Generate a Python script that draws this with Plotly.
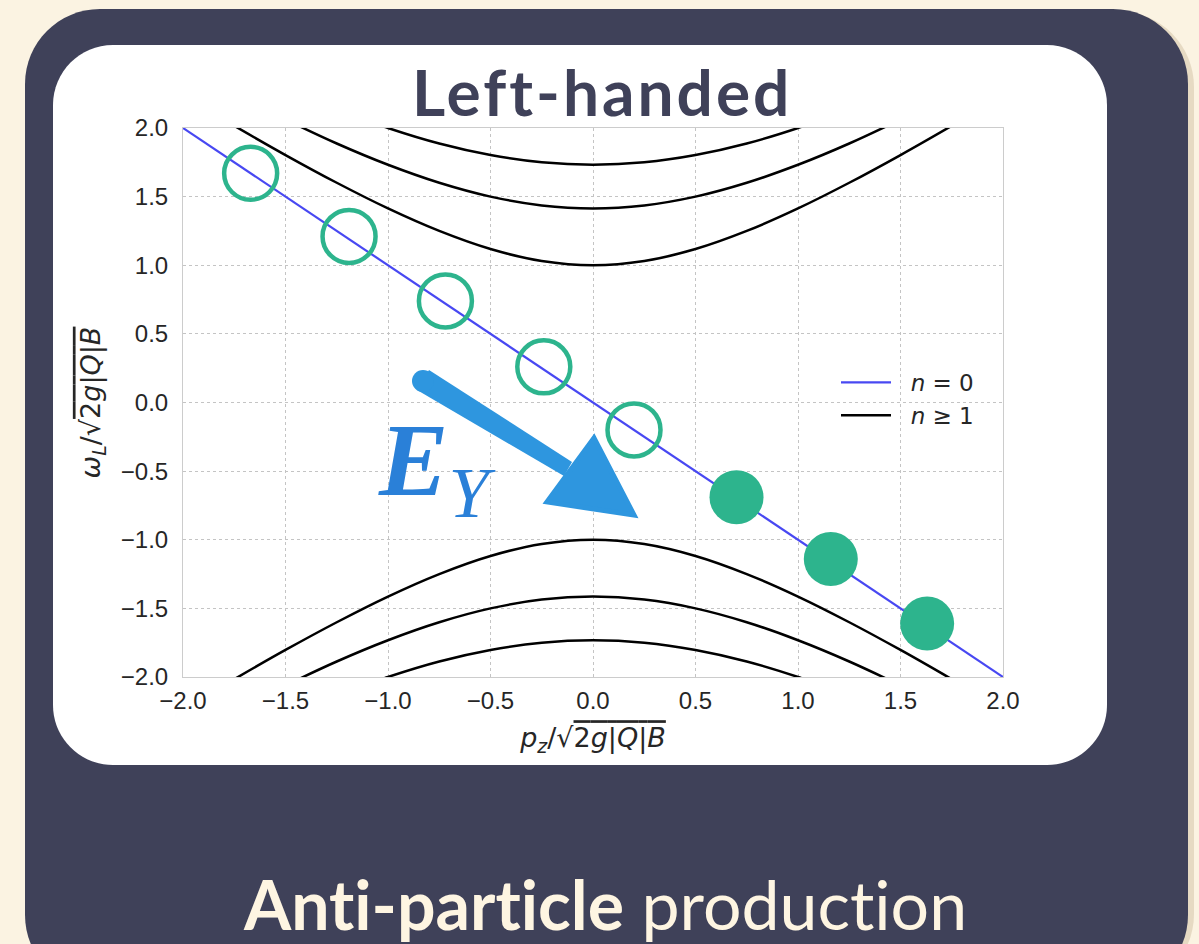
import plotly.graph_objects as go

# ---------------- data ----------------
p_grid = [-2.0, -1.75, -1.5, -1.25, -1.0, -0.75, -0.5, -0.25, 0.0,
          0.25, 0.5, 0.75, 1.0, 1.25, 1.5, 1.75, 2.0]
omega_n1 = [2.236, 2.016, 1.803, 1.601, 1.414, 1.250, 1.118, 1.031, 1.000,
            1.031, 1.118, 1.250, 1.414, 1.601, 1.803, 2.016, 2.236]
omega_n2 = [2.449, 2.250, 2.062, 1.887, 1.732, 1.601, 1.500, 1.436, 1.414,
            1.436, 1.500, 1.601, 1.732, 1.887, 2.062, 2.250, 2.449]
omega_n3 = [2.646, 2.462, 2.291, 2.136, 2.000, 1.887, 1.803, 1.750, 1.732,
            1.750, 1.803, 1.887, 2.000, 2.136, 2.291, 2.462, 2.646]
n0_p = [-2.0, 2.0]
n0_omega = [2.0, -2.0]

open_p = [-1.67, -1.19, -0.72, -0.24, 0.20]
open_omega = [1.67, 1.21, 0.74, 0.26, -0.20]
filled_p = [0.70, 1.16, 1.63]
filled_omega = [-0.69, -1.14, -1.61]

tick_vals = [-2.0, -1.5, -1.0, -0.5, 0.0, 0.5, 1.0, 1.5, 2.0]
tick_text = ["\u22122.0", "\u22121.5", "\u22121.0", "\u22120.5", "0.0", "0.5", "1.0", "1.5", "2.0"]

# ---------------- styles ----------------
W, H = 1199, 944
PL, PR, PT, PB = 183, 1003, 128, 677  # plot area pixels
CREAM = "#FBF3E2"
SLATE = "#3F4159"
GREEN = "#2DB48D"
BLUE_LINE = "#4848F2"
ARROW = "#2E96DF"


def px2paper(x, y):
    return (x - PL) / (PR - PL), (PB - y) / (PB - PT)


def px2data(x, y):
    return -2 + 4 * (x - PL) / (PR - PL), 2 - 4 * (y - PT) / (PB - PT)


def rounded_rect(x0, y0, x1, y1, r):
    k = 0.5523 * r
    def P(x, y):
        a, b = px2paper(x, y)
        return f"{a:.5f},{b:.5f}"
    d = (f"M {P(x0 + r, y0)} L {P(x1 - r, y0)} "
         f"C {P(x1 - r + k, y0)} {P(x1, y0 + r - k)} {P(x1, y0 + r)} "
         f"L {P(x1, y1 - r)} "
         f"C {P(x1, y1 - r + k)} {P(x1 - r + k, y1)} {P(x1 - r, y1)} "
         f"L {P(x0 + r, y1)} "
         f"C {P(x0 + r - k, y1)} {P(x0, y1 - r + k)} {P(x0, y1 - r)} "
         f"L {P(x0, y0 + r)} "
         f"C {P(x0, y0 + r - k)} {P(x0 + r - k, y0)} {P(x0 + r, y0)} Z")
    return d


def poly_data(points):
    s = []
    for i, (x, y) in enumerate(points):
        a, b = px2data(x, y)
        s.append(("M " if i == 0 else "L ") + f"{a:.5f},{b:.5f}")
    return " ".join(s) + " Z"


fig = go.Figure()

for i, ys in enumerate([omega_n1, omega_n2, omega_n3]):
    fig.add_trace(go.Scatter(x=p_grid, y=ys, mode="lines", line=dict(color="black", width=2.5, shape="spline"),
                             showlegend=(i == 0), name="\u00a0\u00a0<i>n</i> \u2265 1", legendgroup="n1"))
    fig.add_trace(go.Scatter(x=p_grid, y=[-v for v in ys], mode="lines",
                             line=dict(color="black", width=2.5, shape="spline"),
                             showlegend=False, legendgroup="n1"))

fig.add_trace(go.Scatter(x=n0_p, y=n0_omega, mode="lines", line=dict(color=BLUE_LINE, width=2.2),
                         name="\u00a0\u00a0<i>n</i> = 0", showlegend=True))

fig.add_trace(go.Scatter(x=open_p, y=open_omega, mode="markers", showlegend=False,
                         marker=dict(symbol="circle-open", size=53, color=GREEN, line=dict(width=4.5, color=GREEN)),
                         cliponaxis=False))
fig.add_trace(go.Scatter(x=filled_p, y=filled_omega, mode="markers", showlegend=False,
                         marker=dict(symbol="circle", size=54, color=GREEN, line=dict(width=0)),
                         cliponaxis=False))

shapes = []
# shadow + dark panel + white panel
shapes.append(dict(type="path", xref="paper", yref="paper", layer="below",
                   path=rounded_rect(27, 11, 1194, 990, 76), fillcolor="#E6DAC3", line=dict(width=0)))
shapes.append(dict(type="path", xref="paper", yref="paper", layer="below",
                   path=rounded_rect(25, 9, 1188, 990, 75), fillcolor=SLATE, line=dict(width=0)))
shapes.append(dict(type="path", xref="paper", yref="paper", layer="below",
                   path=rounded_rect(53, 45, 1107, 765, 60), fillcolor="white", line=dict(width=0)))
shapes.append(dict(type="rect", xref="paper", yref="paper", layer="below",
                   x0=0, x1=1, y0=0, y1=1, fillcolor="white", line=dict(width=0)))

# brush arrow (decoration)
shapes.append(dict(type="path", xref="x", yref="y", layer="above",
                   path=poly_data([(429, 370), (572, 462), (564, 476), (417, 390)]),
                   fillcolor=ARROW, line=dict(width=0)))
cx0, cy0 = px2data(412, 370)
cx1, cy1 = px2data(434, 392)
shapes.append(dict(type="circle", xref="x", yref="y", layer="above",
                   x0=cx0, x1=cx1, y0=cy0, y1=cy1, fillcolor=ARROW, line=dict(width=0)))
shapes.append(dict(type="path", xref="x", yref="y", layer="above",
                   path=poly_data([(594, 438), (547, 502), (634, 515)]),
                   fillcolor=ARROW, line=dict(color=ARROW, width=5)))

annotations = []
tx, ty = px2paper(602, 92)
annotations.append(dict(xref="paper", yref="paper", x=tx, y=ty,
                        text="<span style='letter-spacing:3px'><b>Left-handed</b></span>", showarrow=False,
                        font=dict(family="Lato", size=64, color=SLATE, weight=900),
                        xanchor="center", yanchor="middle"))
bx, by = px2paper(605, 903)
annotations.append(dict(xref="paper", yref="paper", x=bx, y=by,
                        text="<span style='font-variant-ligatures:none'><b>Anti-particle</b> production</span>",
                        showarrow=False,
                        font=dict(family="Lato", size=68, color="#FEF5E2"), xanchor="center", yanchor="middle"))
ex, ey = px2paper(376, 468)
annotations.append(dict(xref="paper", yref="paper", x=ex, y=ey,
                        text="<b><i>E</i></b><sub><i>Y</i></sub>", showarrow=False,
                        font=dict(family="Liberation Serif", size=104, color="#2A80D8"),
                        xanchor="left", yanchor="middle"))

axis_common = dict(range=[-2, 2], tickmode="array", tickvals=tick_vals, ticktext=tick_text,
                   showgrid=True, gridcolor="#C4C4C4", griddash="dot", gridwidth=1.2,
                   zeroline=False, showline=True, linecolor="#CCCCCC", linewidth=1, mirror=True,
                   ticks="", tickfont=dict(family="Liberation Sans", size=24, color="#262626"))

xlabel = "<i>p<sub>z</sub></i>/\u221a<span style='text-decoration:overline'>2<i>g</i>|<i>Q</i>|<i>B</i></span>"
ylabel = "<i>\u03c9<sub>L</sub></i>/\u221a<span style='text-decoration:overline'>2<i>g</i>|<i>Q</i>|<i>B</i></span>"

fig.update_layout(
    width=W, height=H,
    margin=dict(l=PL, r=W - PR, t=PT, b=H - PB),
    paper_bgcolor=CREAM, plot_bgcolor="rgba(0,0,0,0)",
    xaxis=dict(**axis_common, ticklabelstandoff=2,
               title=dict(text=xlabel, font=dict(family="DejaVu Sans", size=27, color="#262626"), standoff=15)),
    yaxis=dict(**axis_common, ticklabelstandoff=9,
               title=dict(text=ylabel, font=dict(family="DejaVu Sans", size=27, color="#262626"), standoff=12)),
    shapes=shapes, annotations=annotations,
    legend=dict(x=px2paper(836, 0)[0], y=px2paper(0, 361)[1], xanchor="left", yanchor="top",
                bgcolor="rgba(0,0,0,0)", font=dict(family="DejaVu Sans", size=23, color="#262626"),
                traceorder="reversed", itemwidth=50, tracegroupgap=0),
    showlegend=True,
)

fig.write_html("out.html")
